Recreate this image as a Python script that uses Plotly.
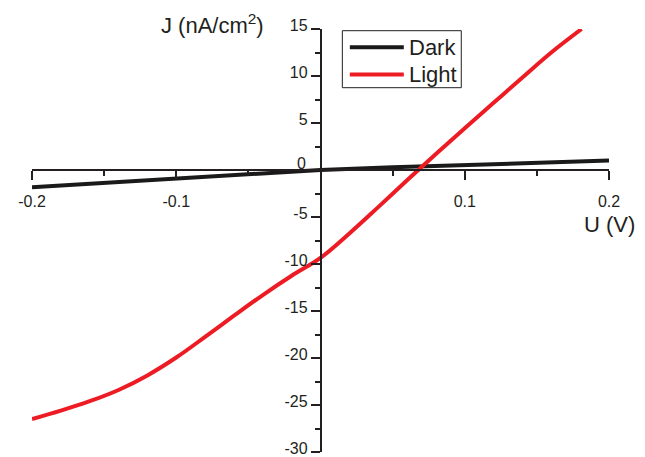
import plotly.graph_objects as go

# Data
u_dark = [-0.2, -0.15, -0.1, -0.05, 0.0, 0.05, 0.1, 0.15, 0.2]
j_dark = [-1.84, -1.40, -0.96, -0.48, 0.0, 0.28, 0.55, 0.78, 1.0]

u_light = [-0.2, -0.18, -0.16, -0.14, -0.12, -0.10, -0.08, -0.06, -0.04, -0.02,
           0.0, 0.02, 0.04, 0.06, 0.08, 0.10, 0.12, 0.14, 0.16, 0.181]
j_light = [-26.5, -25.6, -24.6, -23.4, -21.85, -19.95, -17.75, -15.5, -13.3, -11.25,
           -9.35, -6.75, -3.95, -1.1, 1.7, 4.45, 7.15, 9.85, 12.5, 15.0]

series_names = ["Dark", "Light"]
series_colors = ["#1a1a1a", "#ed1c24"]

x_ticks = [-0.2, -0.1, 0.1, 0.2]
x_ticklabels = ["-0.2", "-0.1", "0.1", "0.2"]
x_minor = [-0.15, -0.05, 0.05, 0.15]
y_ticks = [-30, -25, -20, -15, -10, -5, 5, 10, 15]
y_ticklabels = ["-30", "-25", "-20", "-15", "-10", "-5", "5", "10", "15"]
y_minor = [-27.5, -22.5, -17.5, -12.5, -7.5, -2.5, 2.5, 7.5, 12.5]

FONT = "Arial, Liberation Sans, sans-serif"
INK = "#231f20"

# page body adds an 8 px offset; the figure is sized so it fills the window
OFF = 8
W, H = 645 - OFF, 457 - OFF
# plot area in window pixels: x 32..609.3, y 29.3..452.3
ML = 32 - OFF
MT = 29.3 - OFF
MR = W - (609.3 - OFF)
MB = H - (452.3 - OFF)
PW, PH = W - ML - MR, H - MT - MB


def px(xp):
    """window pixel x -> paper"""
    return (xp - OFF - ML) / PW


def py(yp):
    """window pixel y -> paper"""
    return (H - MB - (yp - OFF)) / PH


fig = go.Figure()
fig.add_trace(go.Scatter(x=u_dark, y=j_dark, mode="lines", name=series_names[0],
                         line=dict(color=series_colors[0], width=4)))
fig.add_trace(go.Scatter(x=u_light, y=j_light, mode="lines", name=series_names[1],
                         line=dict(color=series_colors[1], width=4, shape="spline", smoothing=1.0)))

fig.update_layout(
    width=W, height=H,
    margin=dict(l=ML, r=MR, t=MT, b=MB, autoexpand=False),
    paper_bgcolor="white", plot_bgcolor="white",
    font=dict(family=FONT, color=INK, size=16),
    showlegend=False,
    xaxis=dict(range=[-0.2, 0.2], anchor="free", position=30/45, automargin=False,
               showgrid=False, zeroline=False, showline=True,
               linecolor=INK, linewidth=1.5,
               tickmode="array", tickvals=x_ticks, ticktext=x_ticklabels,
               ticks="outside", ticklen=9, tickwidth=1.5, tickcolor=INK,
               ticklabelstandoff=8, ticklabeloverflow="allow",
               tickfont=dict(size=16, family=FONT, color=INK),
               minor=dict(tickvals=x_minor, ticks="outside", ticklen=5,
                          tickwidth=1.5, tickcolor=INK, showgrid=False)),
    yaxis=dict(range=[-30, 15], anchor="free", position=0.5, automargin=False,
               showgrid=False, zeroline=False, showline=True,
               linecolor=INK, linewidth=1.5,
               tickmode="array", tickvals=y_ticks, ticktext=y_ticklabels,
               ticks="outside", ticklen=9, tickwidth=1.5, tickcolor=INK,
               ticklabelshift=-4, ticklabeloverflow="allow",
               tickfont=dict(size=16, family=FONT, color=INK),
               minor=dict(tickvals=y_minor, ticks="outside", ticklen=5,
                          tickwidth=1.5, tickcolor=INK, showgrid=False)),
)

# y tick label "0" sits just above the x axis line
fig.add_annotation(x=0, y=0, xref="x", yref="y", text="0", showarrow=False,
                   xanchor="right", yanchor="middle", xshift=-13, yshift=7,
                   font=dict(size=16, family=FONT, color=INK))
# axis titles
fig.add_annotation(x=px(266), y=py(24), xref="paper", yref="paper",
                   text="J (nA/cm<sup>2</sup>)", showarrow=False,
                   xanchor="right", yanchor="middle",
                   font=dict(size=22, family=FONT, color=INK))
fig.add_annotation(x=px(610), y=py(225), xref="paper", yref="paper", text="U (V)",
                   showarrow=False, xanchor="center", yanchor="middle",
                   font=dict(size=22, family=FONT, color=INK))

# legend box
fig.add_shape(type="rect", xref="paper", yref="paper",
              x0=px(342.5), x1=px(461.5), y0=py(88), y1=py(31),
              line=dict(color=INK, width=1), fillcolor="white", layer="above")
for i, (name, col) in enumerate(zip(series_names, series_colors)):
    yc = 47.5 + i * 27.2
    fig.add_shape(type="line", xref="paper", yref="paper",
                  x0=px(350), x1=px(404), y0=py(yc), y1=py(yc),
                  line=dict(color=col, width=4), layer="above")
    fig.add_annotation(x=px(407), y=py(yc), xref="paper", yref="paper", text=name,
                       showarrow=False, xanchor="left", yanchor="middle",
                       font=dict(size=22, family=FONT, color=INK))

fig.write_html("out.html")
